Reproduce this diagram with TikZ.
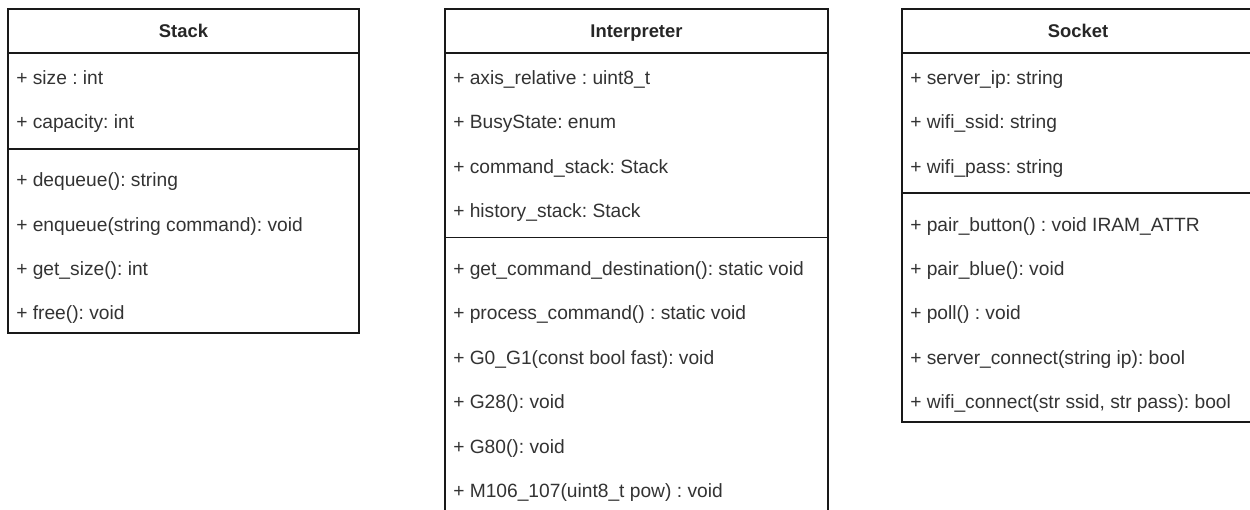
\documentclass[tikz,border=0pt]{standalone}
\usepackage{fontspec}
\setmainfont{Liberation Sans}
\frenchspacing
\tikzset{
  classbox/.style={draw=black!90, line width=1.1pt},
  member/.style={anchor=base west, inner sep=0pt, text=black!80,
    font=\fontsize{14.4}{16}\selectfont},
  classname/.style={anchor=base, inner sep=0pt, text=black!85,
    font=\fontsize{13.8}{16}\selectfont\bfseries},
}
\begin{document}
\begin{tikzpicture}[x=0.75pt, y=-0.75pt]
    \clip (0,0) rectangle (1250,510);
    \fill[white] (0,0) rectangle (1250,510);
    % Stack
    \draw[classbox] (8,9) rectangle (359,333);
    \draw[classbox] (8,53) -- (359,53);
    \draw[classbox] (8,149) -- (359,149);
    \node[classname] (stack) at (183.5,38) {Stack};
    \foreach \t [count=\i] in {+ size : int, + capacity: int}
        \node[member] (stack-a\i) at (16,{53+(\i-0.5)*44.4+9}) {\t};
    \foreach \t [count=\i] in {+ dequeue(): string, + enqueue(string command): void,
        + get\_size(): int, + free(): void}
        \node[member] (stack-m\i) at (16,{155.5+(\i-0.5)*44.4+9}) {\t};
    % Interpreter
    \draw[classbox] (445,9) rectangle (828,511);
    \draw[classbox] (445,53) -- (828,53);
    \draw[classbox] (445,237.5) -- (828,237.5);
    \node[classname] (interp) at (636.5,38) {Interpreter};
    \foreach \t [count=\i] in {+ axis\_relative : uint8\_t, + BusyState: enum,
        + command\_stack: Stack, + history\_stack: Stack}
        \node[member] (interp-a\i) at (453,{53+(\i-0.5)*44.4+9}) {\t};
    \foreach \t [count=\i] in {+ get\_command\_destination(): static void,
        + process\_command() : static void, + G0\_G1(const bool fast): void,
        + G28(): void, + G80(): void, + M106\_107(uint8\_t pow) : void}
        \node[member] (interp-m\i) at (453,{244.3+(\i-0.5)*44.4+9}) {\t};
    % Socket
    \draw[classbox] (902,9) rectangle (1254,422);
    \draw[classbox] (902,53) -- (1254,53);
    \draw[classbox] (902,193) -- (1254,193);
    \node[classname] (socket) at (1078,38) {Socket};
    \foreach \t [count=\i] in {+ server\_ip: string, + wifi\_ssid: string,
        + wifi\_pass: string}
        \node[member] (socket-a\i) at (910,{53+(\i-0.5)*44.4+9}) {\t};
    \foreach \t [count=\i] in {+ pair\_button() : void IRAM\_ATTR, + pair\_blue(): void,
        + poll() : void, + server\_connect(string ip): bool,
        {+ wifi\_connect(str ssid, str pass): bool}}
        \node[member] (socket-m\i) at (910,{199.9+(\i-0.5)*44.4+9}) {\t};
\end{tikzpicture}
\end{document}
